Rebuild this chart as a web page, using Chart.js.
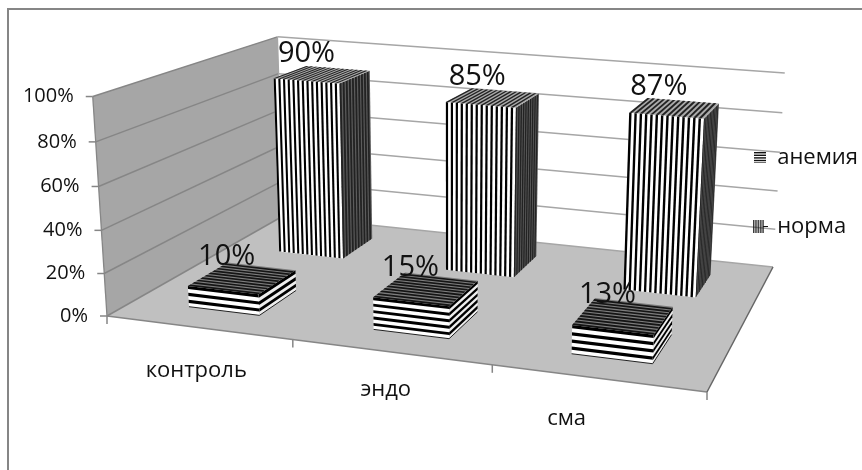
<!DOCTYPE html>
<html>
<head>
<meta charset="utf-8">
<title>анемия / норма</title>
<script src="https://cdn.jsdelivr.net/npm/chart.js@4"></script>
<style>
  html, body { margin: 0; padding: 0; background: #fff; }
  canvas { display: block; }
</style>
</head>
<body>
<canvas id="grafico" width="862" height="470"></canvas>
<script>
// Datos
var categorias = ['контроль', 'эндо', 'сма'];
var series = ['анемия', 'норма'];
var anemia = [10, 15, 13];
var norma = [90, 85, 87];
var marcasValor = [0, 20, 40, 60, 80, 100];

// Camara: esquinas del piso y parte alta de las paredes, en pixeles del lienzo
var piso = { fi: [107, 316], ft: [283, 216], dt: [773, 267], df: [707, 392] };
var techo = { fi: [93, 98], ft: [277, 42], dt: [785, 66] };

var fuente = '"Open Sans", sans-serif';
var gruesoFondo = 0.41; // fraccion del paso entre filas que ocupa la barra en profundidad
var rayasNorma = 14;
var pasoAnemia = 3;     // una banda cada 3 % de altura

function resolver(A, b) {
    var n = A[0].length, M = [], i, j, k;
    // ecuaciones normales, sirve tambien para sistemas cuadrados
    for (i = 0; i < n; i++) {
        M[i] = [];
        for (j = 0; j < n; j++) {
            M[i][j] = 0;
            for (k = 0; k < A.length; k++) M[i][j] += A[k][i] * A[k][j];
        }
        M[i][n] = 0;
        for (k = 0; k < A.length; k++) M[i][n] += A[k][i] * b[k];
    }
    for (i = 0; i < n; i++) {
        var p = i;
        for (j = i + 1; j < n; j++) if (Math.abs(M[j][i]) > Math.abs(M[p][i])) p = j;
        var t = M[i]; M[i] = M[p]; M[p] = t;
        for (j = i + 1; j < n; j++) {
            var f = M[j][i] / M[i][i];
            for (k = i; k <= n; k++) M[j][k] -= f * M[i][k];
        }
    }
    var x = [];
    for (i = n - 1; i >= 0; i--) {
        x[i] = M[i][n];
        for (j = i + 1; j < n; j++) x[i] -= M[i][j] * x[j];
        x[i] /= M[i][i];
    }
    return x;
}

// Matriz de proyeccion (u, v, w) -> pantalla. u: ancho, v: fondo, w: altura
function armarCamara() {
    var A = [], b = [];
    [[0, 0, piso.fi], [0, 1, piso.ft], [1, 1, piso.dt], [1, 0, piso.df]].forEach(function (c) {
        var u = c[0], v = c[1], x = c[2][0], y = c[2][1];
        A.push([u, v, 1, 0, 0, 0, -u * x, -v * x]); b.push(x);
        A.push([0, 0, 0, u, v, 1, -u * y, -v * y]); b.push(y);
    });
    var h = resolver(A, b);
    var A2 = [], b2 = [];
    [[0, 0, techo.fi], [0, 1, techo.ft], [1, 1, techo.dt]].forEach(function (c) {
        var u = c[0], v = c[1], x = c[2][0], y = c[2][1];
        var d = h[6] * u + h[7] * v + 1;
        A2.push([1, 0, -x]); b2.push(x * d - (h[0] * u + h[1] * v + h[2]));
        A2.push([0, 1, -y]); b2.push(y * d - (h[3] * u + h[4] * v + h[5]));
    });
    var c = resolver(A2, b2);
    return function (u, v, w) {
        var d = h[6] * u + h[7] * v + c[2] * w + 1;
        return [(h[0] * u + h[1] * v + c[0] * w + h[2]) / d, (h[3] * u + h[4] * v + c[1] * w + h[5]) / d];
    };
}
var P = armarCamara();

function poligono(ctx, puntos, relleno) {
    ctx.beginPath();
    puntos.forEach(function (p, i) { i ? ctx.lineTo(p[0], p[1]) : ctx.moveTo(p[0], p[1]); });
    ctx.closePath();
    ctx.fillStyle = relleno;
    ctx.fill();
}

function linea(ctx, a, b, color, ancho) {
    ctx.beginPath();
    ctx.moveTo(a[0], a[1]);
    ctx.lineTo(b[0], b[1]);
    ctx.strokeStyle = color;
    ctx.lineWidth = ancho;
    ctx.stroke();
}

function texto(ctx, t, x, y, size, alineado) {
    ctx.font = size + 'px ' + fuente;
    ctx.fillStyle = '#111';
    ctx.textAlign = alineado || 'center';
    ctx.textBaseline = 'middle';
    ctx.fillText(t, x, y);
}

// Rayas sobre una cara; en(s, t) da el punto de pantalla, las rayas corren a lo largo de t
function rayas(ctx, en, n, ocupa, oscuro, claro) {
    poligono(ctx, [en(0, 0), en(1, 0), en(1, 1), en(0, 1)], claro);
    for (var i = 0; i < n; i++) {
        var a = i / n, b = (i + ocupa) / n;
        poligono(ctx, [en(a, 0), en(b, 0), en(b, 1), en(a, 1)], oscuro);
    }
}

function mezcla(a, b, s) { return a + (b - a) * s; }

// Caja de una barra: rayas verticales para norma, bandas horizontales para anemia
function caja(ctx, u0, u1, v0, v1, w, esNorma, valor) {
    if (esNorma) {
        rayas(ctx, function (s, t) { return P(mezcla(u0, u1, s), v0, t * w); }, rayasNorma, 0.45, '#000', '#fff');
        rayas(ctx, function (s, t) { return P(u1, mezcla(v0, v1, s), t * w); }, 10, 0.6, '#222', '#5c5c5c');
        rayas(ctx, function (s, t) { return P(mezcla(u0, u1, s), mezcla(v0, v1, t), w); }, rayasNorma, 0.5, '#222', '#aaa');
    } else {
        var n = Math.round(valor / pasoAnemia);
        rayas(ctx, function (s, t) { return P(mezcla(u0, u1, t), v0, (1 - s) * w); }, n, 0.45, '#000', '#fff');
        rayas(ctx, function (s, t) { return P(u1, mezcla(v0, v1, t), (1 - s) * w); }, n, 0.5, '#000', '#eee');
        rayas(ctx, function (s, t) { return P(mezcla(u0, u1, t), mezcla(v0, v1, s), w); }, 10, 0.6, '#151515', '#7c7c7c');
        // borde inferior, separa la ultima banda clara del piso
        linea(ctx, P(u0, v0, 0), P(u1, v0, 0), '#222', 1);
        linea(ctx, P(u1, v0, 0), P(u1, v1, 0), '#222', 1);
    }
}

// Muestras de la leyenda
function muestra(horizontal) {
    var c = document.createElement('canvas');
    c.width = horizontal ? 12 : 15;
    c.height = horizontal ? 11 : 13;
    var g = c.getContext('2d');
    g.fillStyle = '#111';
    if (horizontal) for (var y = 0; y < 11; y += 2.6) g.fillRect(0, y, 12, 1.4);
    else for (var x = 0; x < 10; x += 2.4) g.fillRect(x, 0, 1.3, 13);
    if (!horizontal) g.fillRect(10, 6, 5, 1);
    return c;
}

var plano3d = {
    id: 'plano3d',
    beforeDraw: function (chart) {
        var ctx = chart.ctx;
        ctx.save();
        ctx.fillStyle = '#fff';
        ctx.fillRect(0, 0, chart.width, chart.height);
        linea(ctx, [8, 470], [8, 9], '#868686', 2);
        linea(ctx, [7, 9], [862, 9], '#868686', 2);

        var y = chart.scales.y;
        var alto = function (g) {
            return (y.getPixelForValue(0) - y.getPixelForValue(g)) / (y.getPixelForValue(0) - y.getPixelForValue(100));
        };
        // paredes y piso
        poligono(ctx, [P(0, 0, 0), P(0, 1, 0), P(0, 1, 1), P(0, 0, 1)], '#a6a6a6');
        poligono(ctx, [P(0, 0, 0), P(0, 1, 0), P(1, 1, 0), P(1, 0, 0)], '#c0c0c0');
        marcasValor.forEach(function (g) {
            var w = alto(g);
            linea(ctx, P(0, 0, w), P(0, 1, w), '#868686', 1.5);
            linea(ctx, P(0, 1, w), P(1, 1, w), '#a6a6a6', 1.5);
            var a = P(0, 0, w);
            linea(ctx, a, [a[0] - 7, a[1]], '#868686', 1.5);
            texto(ctx, g + '%', a[0] - 19, a[1], 20, 'right');
        });
        linea(ctx, P(0, 1, 0), P(0, 1, 1), '#a6a6a6', 1.3);
        linea(ctx, P(0, 0, 0), P(0, 0, 1), '#868686', 1.3);
        linea(ctx, P(0, 0, 0), P(1, 0, 0), '#868686', 1.5);
        linea(ctx, P(1, 0, 0), P(1, 1, 0), '#666', 1.5);

        // marcas y nombres del eje de categorias
        var x = chart.scales.x, area = chart.chartArea;
        var corrimiento = [[-2, 43], [-5, 38], [-31, 41]];
        for (var i = 0; i <= categorias.length; i++) {
            var p = P(i / categorias.length, 0, 0);
            linea(ctx, p, [p[0], p[1] + 8], '#868686', 1.5);
        }
        categorias.forEach(function (nombre, i) {
            var q = P((x.getPixelForValue(i) - area.left) / area.width, 0, 0);
            texto(ctx, nombre, q[0] + corrimiento[i][0], q[1] + corrimiento[i][1], 22);
        });
        ctx.restore();
    },
    afterDatasetsDraw: function (chart) {
        var ctx = chart.ctx, area = chart.chartArea, prof = chart.scales.prof;
        var y0 = chart.scales.y.getPixelForValue(0), y100 = chart.scales.y.getPixelForValue(100);
        // distancia entre filas, en fraccion del fondo del piso
        var paso = Math.abs(prof.getPixelForValue(1) - prof.getPixelForValue(0)) / prof.height;
        var etiquetas = [];
        ctx.save();
        // primero la fila del fondo
        [1, 0].forEach(function (d) {
            var ds = chart.data.datasets[d];
            var centroV = (prof.bottom - prof.getPixelForValue(d)) / prof.height;
            var medio = gruesoFondo * paso / 2;
            chart.getDatasetMeta(d).data.forEach(function (el, i) {
                var b = el.getProps(['x', 'y', 'base', 'width'], true);
                var u0 = (b.x - b.width / 2 - area.left) / area.width;
                var u1 = (b.x + b.width / 2 - area.left) / area.width;
                var w = (y0 - b.y) / (y0 - y100);
                caja(ctx, u0, u1, centroV - medio, centroV + medio, w, d === 1, ds.data[i]);
                var t = P((u0 + u1) / 2, centroV, w);
                etiquetas.push([ds.data[i] + '%', t[0] - 16, t[1] - 21]);
            });
        });
        etiquetas.forEach(function (e) { texto(ctx, e[0], e[1], e[2], 29); });
        ctx.restore();
    }
};

new Chart(document.getElementById('grafico').getContext('2d'), {
    type: 'bar',
    plugins: [plano3d],
    data: {
        labels: categorias,
        datasets: [
            { label: series[0], data: anemia, backgroundColor: 'rgba(0,0,0,0)', grouped: false },
            { label: series[1], data: norma, backgroundColor: 'rgba(0,0,0,0)', grouped: false }
        ]
    },
    options: {
        responsive: false,
        animation: false,
        events: [],
        barPercentage: 0.39,
        categoryPercentage: 1,
        layout: { padding: { top: 0, right: -6, bottom: 86, left: 0 } },
        scales: {
            x: { display: false },
            y: { display: false, min: 0, max: 100 },
            prof: { type: 'linear', axis: 'y', min: -0.46, max: 1.46, display: false }
        },
        plugins: {
            title: { display: false },
            tooltip: { enabled: false },
            legend: {
                position: 'right',
                labels: {
                    font: { family: 'Open Sans', size: 22 },
                    color: '#111',
                    usePointStyle: true,
                    boxWidth: 12,
                    boxHeight: 12,
                    padding: 47,
                    generateLabels: function (chart) {
                        return series.map(function (s, i) {
                            return { text: s, datasetIndex: i, pointStyle: muestra(i === 0), fontColor: '#111', lineWidth: 0 };
                        });
                    }
                }
            }
        }
    }
});
</script>
</body>
</html>
